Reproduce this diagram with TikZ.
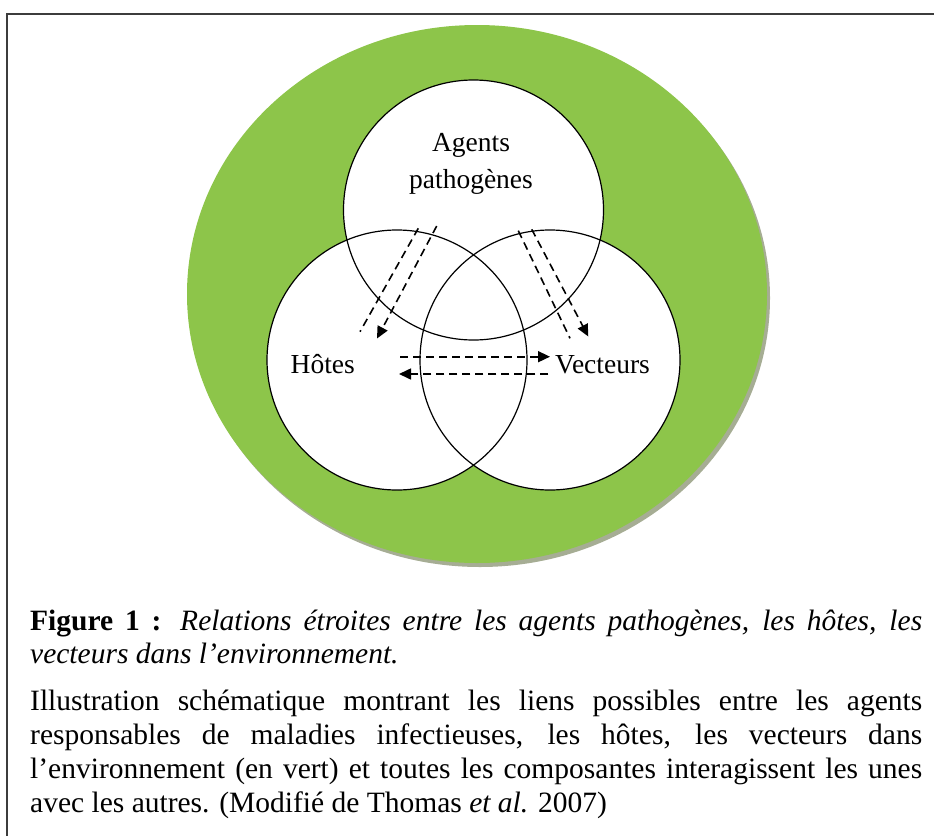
\documentclass[tikz,border=0pt]{standalone}
\usepackage{fontspec}
\setmainfont{Liberation Serif}
\usetikzlibrary{arrows.meta}
\definecolor{envgreen}{RGB}{141,197,74}
\definecolor{shadowgray}{RGB}{166,173,148}
\definecolor{framegray}{RGB}{60,60,60}
\begin{document}
\begin{tikzpicture}[x=1pt,y=-1pt,
  venn/.style={draw=black, line width=1.2pt, circle, minimum size=260pt, inner sep=0pt},
  lbl/.style={font=\fontsize{27.5}{33}\selectfont, inner sep=0pt},
  captxt/.style={font=\fontsize{29.5}{34}\selectfont, inner sep=0pt, anchor=base west},
  dashline/.style={line width=1.6pt, dash pattern=on 8pt off 5pt},
  dasharrow/.style={dashline, -{Triangle[length=12pt,width=11pt]}}]
\useasboundingbox (0,0) rectangle (934,835);
% frame
\draw[framegray, line width=2pt] (7,840) -- (7,14) -- (940,14);
% environment
\fill[shadowgray] (480,298) ellipse [x radius=290pt, y radius=269pt];
\fill[envgreen] (477,294) ellipse [x radius=290pt, y radius=269pt];
% white fills
\fill[white] (473.5,210) circle [radius=130pt];
\fill[white] (397,360) circle [radius=130pt];
\fill[white] (550,360) circle [radius=130pt];
% circle outlines
\node[venn] (cP) at (473.5,210) {};
\node[venn] (cH) at (397,360) {};
\node[venn] (cV) at (550,360) {};
% labels
\node[lbl, anchor=base] (agents) at (471,151) {Agents};
\node[lbl, anchor=base] (patho) at (471,188) {pathogènes};
\node[lbl, anchor=base east] (hotes) at (355,373) {Hôtes};
\node[lbl, anchor=base west] (vect) at (555,373) {Vecteurs};
% arrow end points
\coordinate (l1a) at (418.3,228.3);
\coordinate (l1b) at (360,331.7);
\coordinate (l2a) at (436.7,226);
\coordinate (l2b) at (377,338.5);
\coordinate (r1a) at (518.3,230.7);
\coordinate (r1b) at (570,338.3);
\coordinate (r2a) at (531.7,229.3);
\coordinate (r2b) at (588.3,336.5);
\coordinate (h1a) at (400,356.7);
\coordinate (h1b) at (550,356.7);
\coordinate (h2a) at (548.3,374);
\coordinate (h2b) at (399,374);
\draw[dashline] (l1a) -- (l1b);
\draw[dasharrow] (l2a) -- (l2b);
\draw[dashline] (r1a) -- (r1b);
\draw[dasharrow] (r2a) -- (r2b);
\draw[dasharrow] (h1a) -- (h1b);
\draw[dasharrow] (h2a) -- (h2b);
% caption
\node[captxt] (t1) at (30,630) {\makebox[892pt][s]{\textbf{Figure 1 :} \textit{Relations étroites entre les agents pathogènes, les hôtes, les}}};
\node[captxt] (t2) at (30,663) {\textit{vecteurs dans l’environnement.}};
\node[captxt] (p1) at (30,710) {\makebox[892pt][s]{Illustration schématique montrant les liens possibles entre les agents}};
\node[captxt] (p2) at (30,744) {\makebox[892pt][s]{responsables de maladies infectieuses, les hôtes, les vecteurs dans}};
\node[captxt] (p3) at (30,778) {\makebox[892pt][s]{l’environnement (en vert) et toutes les composantes interagissent les unes}};
\node[captxt] (p4) at (30,812) {avec les autres. (Modifié de Thomas \textit{et al.} 2007)};
\end{tikzpicture}
\end{document}
